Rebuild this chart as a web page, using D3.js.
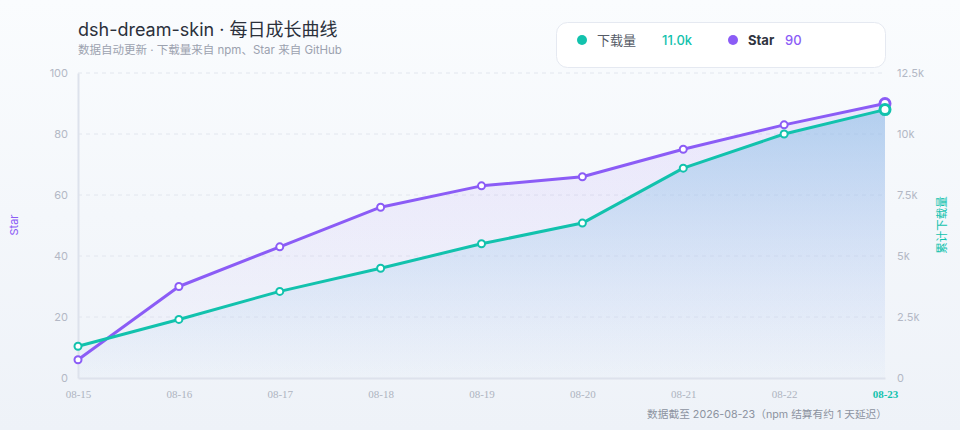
<!DOCTYPE html>
<html><head><meta charset="utf-8">
<script src="https://cdn.jsdelivr.net/npm/d3@7/dist/d3.min.js"></script>
<style>
html,body{margin:0;padding:0;}
body{width:960px;height:430px;overflow:hidden;}
svg{display:block;}
</style></head>
<body>
<script>
const dates = ["08-15","08-16","08-17","08-18","08-19","08-20","08-21","08-22","08-23"];
const downloads = [1300, 2400, 3550, 4500, 5500, 6350, 8600, 10000, 11000];
const stars = [6, 30, 43, 56, 63, 66, 75, 83, 90];
const starTicks = [0, 20, 40, 60, 80, 100];
const downloadTicks = [0, 2500, 5000, 7500, 10000, 12500];
const downloadTickLabels = ["0", "2.5k", "5k", "7.5k", "10k", "12.5k"];

const W = 960, H = 430;
const m = {l: 78, r: 885, t: 73, b: 378};
const teal = "#12c2ad", purple = "#8b5cf6";
const sans = "Inter, 'Noto Sans CJK SC', 'Noto Sans', sans-serif";

const svg = d3.select("body").append("svg").attr("width", W).attr("height", H);
const defs = svg.append("defs");
const bg = defs.append("linearGradient").attr("id","bg").attr("x1",0).attr("y1",0).attr("x2",0).attr("y2",1);
bg.append("stop").attr("offset","0").attr("stop-color","#fafcfe");
bg.append("stop").attr("offset","1").attr("stop-color","#eef2f8");
svg.append("rect").attr("width",W).attr("height",H).attr("fill","url(#bg)");

const x = d3.scalePoint().domain(dates).range([m.l, m.r]);
const yS = d3.scaleLinear().domain([0,100]).range([m.b, m.t]);
const yD = d3.scaleLinear().domain([0,12500]).range([m.b, m.t]);

const dg = defs.append("linearGradient").attr("id","dg").attr("gradientUnits","userSpaceOnUse")
  .attr("x1",0).attr("y1",yD(d3.max(downloads))).attr("x2",0).attr("y2",m.b);
dg.append("stop").attr("offset","0").attr("stop-color","#8ebfe6").attr("stop-opacity",0.6);
dg.append("stop").attr("offset","1").attr("stop-color","#b4d2f2").attr("stop-opacity",0.05);

const sg = defs.append("linearGradient").attr("id","sg").attr("gradientUnits","userSpaceOnUse")
  .attr("x1",0).attr("y1",yS(d3.max(stars))).attr("x2",0).attr("y2",m.b);
sg.append("stop").attr("offset","0").attr("stop-color",purple).attr("stop-opacity",0.12);
sg.append("stop").attr("offset","1").attr("stop-color",purple).attr("stop-opacity",0.0);

// grid
svg.append("g").selectAll("line").data(starTicks.filter(d=>d>0)).join("line")
  .attr("x1",m.l).attr("x2",m.r).attr("y1",d=>yS(d)).attr("y2",d=>yS(d))
  .attr("stroke","#e2e6ee").attr("stroke-dasharray","4,4").attr("stroke-width",1);

// areas
const sData = dates.map((d,i)=>({d, v:stars[i]}));
const dData = dates.map((d,i)=>({d, v:downloads[i]}));
svg.append("path").datum(sData)
  .attr("d", d3.area().x(p=>x(p.d)).y0(m.b).y1(p=>yS(p.v)))
  .attr("fill", "url(#sg)");
svg.append("path").datum(dData)
  .attr("d", d3.area().x(p=>x(p.d)).y0(m.b).y1(p=>yD(p.v)))
  .attr("fill", "url(#dg)");

// axes
const gl = svg.append("g").attr("transform",`translate(${m.l},0)`)
  .call(d3.axisLeft(yS).tickValues(starTicks).tickSize(0).tickPadding(10));
gl.select(".domain").attr("stroke","#dde2ec").attr("stroke-width",2);
gl.selectAll("text").attr("fill","#b3b8c5").style("font-size","11px").style("font-family",sans);

const gr = svg.append("g").attr("transform",`translate(${m.r},0)`)
  .call(d3.axisRight(yD).tickValues(downloadTicks).tickFormat((d,i)=>downloadTickLabels[i]).tickSize(0).tickPadding(12));
gr.select(".domain").remove();
gr.selectAll("text").attr("fill","#b3b8c5").style("font-size","11px").style("font-family",sans);

const gb = svg.append("g").attr("transform",`translate(0,${m.b})`)
  .call(d3.axisBottom(x).tickSize(0).tickPadding(12));
gb.select(".domain").attr("stroke","#dde2ec").attr("stroke-width",2);
gb.selectAll("text").attr("fill","#aeb3c0").style("font-size","11px").style("font-family","'Liberation Serif', 'DejaVu Serif', serif")
  .filter((d,i)=>i===dates.length-1).attr("fill",teal).attr("font-weight","bold");

// lines
svg.append("path").datum(sData).attr("d", d3.line().x(p=>x(p.d)).y(p=>yS(p.v)))
  .attr("fill","none").attr("stroke",purple).attr("stroke-width",3).attr("stroke-linejoin","round");
svg.append("path").datum(dData).attr("d", d3.line().x(p=>x(p.d)).y(p=>yD(p.v)))
  .attr("fill","none").attr("stroke",teal).attr("stroke-width",3).attr("stroke-linejoin","round");

const last = dates.length-1;
svg.append("g").selectAll("circle").data(sData).join("circle")
  .attr("cx",p=>x(p.d)).attr("cy",p=>yS(p.v)).attr("r",(p,i)=>i===last?5:3.5)
  .attr("fill","#fff").attr("stroke",purple).attr("stroke-width",(p,i)=>i===last?3:2);
svg.append("g").selectAll("circle").data(dData).join("circle")
  .attr("cx",p=>x(p.d)).attr("cy",p=>yD(p.v)).attr("r",(p,i)=>i===last?5:3.5)
  .attr("fill","#fff").attr("stroke",teal).attr("stroke-width",(p,i)=>i===last?3:2);

// axis names
svg.append("text").attr("transform","translate(18,225) rotate(-90)").attr("text-anchor","middle")
  .attr("fill",purple).attr("font-size",11).attr("font-family",sans).text("Star");
svg.append("text").attr("transform","translate(946,225) rotate(-90)").attr("text-anchor","middle")
  .attr("fill",teal).attr("font-size",11.5).attr("font-family",sans).text("累计下载量");

// title
svg.append("text").attr("x",78).attr("y",36).attr("fill","#2b303b").attr("font-size",18)
  .attr("font-family",sans).text("dsh-dream-skin · 每日成长曲线");
svg.append("text").attr("x",78).attr("y",54).attr("fill","#9ca2af").attr("font-size",11.5)
  .attr("font-family",sans).text("数据自动更新 · 下载量来自 npm、Star 来自 GitHub");

// legend
const lg = svg.append("g");
lg.append("rect").attr("x",556.5).attr("y",22.5).attr("width",329).attr("height",45).attr("rx",11)
  .attr("fill","#ffffff").attr("stroke","#e5e9f1");
lg.append("circle").attr("cx",582).attr("cy",40).attr("r",5).attr("fill",teal);
lg.append("text").attr("x",597).attr("y",45).attr("fill","#555b66").attr("font-size",13).attr("font-family",sans).text("下载量");
lg.append("text").attr("x",662).attr("y",45).attr("fill",teal).attr("font-size",13).attr("font-weight",500).attr("font-family",sans)
  .text((downloads[last]/1000).toFixed(1)+"k");
lg.append("circle").attr("cx",733).attr("cy",40).attr("r",5).attr("fill",purple);
lg.append("text").attr("x",748).attr("y",45).attr("fill","#2f3440").attr("font-size",13).attr("font-weight","bold").attr("font-family",sans).text("Star");
lg.append("text").attr("x",785).attr("y",45).attr("fill",purple).attr("font-size",13).attr("font-weight",500).attr("font-family",sans)
  .text(stars[last]);

// footnote
svg.append("text").attr("x",887).attr("y",418).attr("text-anchor","end").attr("fill","#8c92a0")
  .attr("font-size",10.7).attr("font-family",sans).text("数据截至 2026-08-23（npm 结算有约 1 天延迟）");
</script>
</body></html>
